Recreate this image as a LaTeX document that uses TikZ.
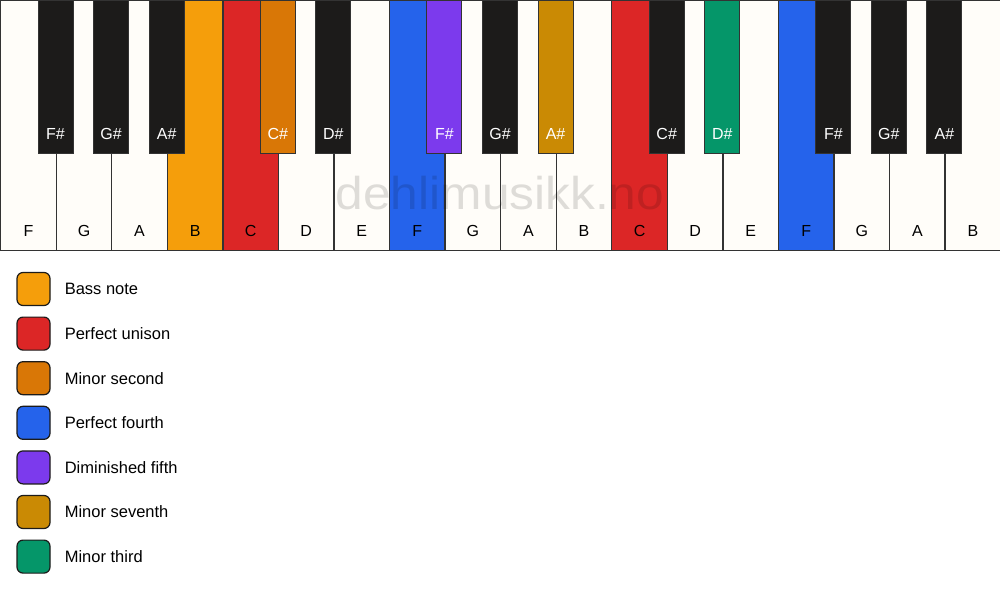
\documentclass[tikz,border=0pt]{standalone}
\usepackage{fontspec}
\setmainfont{Liberation Sans}
\usetikzlibrary{positioning}

\definecolor{ivory}{HTML}{FFFDF9}
\definecolor{ebony}{HTML}{1C1B1A}
\definecolor{keyline}{HTML}{333333}
\definecolor{bassnote}{HTML}{F59E0B}
\definecolor{unison}{HTML}{DC2626}
\definecolor{minsecond}{HTML}{D97706}
\definecolor{fourth}{HTML}{2563EB}
\definecolor{dimfifth}{HTML}{7C3AED}
\definecolor{minseventh}{HTML}{CA8A04}
\definecolor{minthird}{HTML}{059669}

\tikzset{
  whitekey/.style={draw=keyline, line width=1.3pt, fill=ivory, anchor=north west,
    minimum width=55.556pt, minimum height=250pt, inner sep=0pt},
  blackkey/.style={draw=keyline, line width=1pt, fill=ebony, anchor=north,
    minimum width=35pt, minimum height=153pt, inner sep=0pt},
  whitelabel/.style={font=\fontsize{16}{19}\selectfont, text=black, inner sep=0pt},
  blacklabel/.style={font=\fontsize{16}{19}\selectfont, text=white, inner sep=0pt},
  swatch/.style={draw=ebony, line width=1.2pt, rounded corners=6pt,
    minimum width=33pt, minimum height=33pt, inner sep=0pt},
  legendtext/.style={font=\fontsize{16.5}{19}\selectfont, anchor=west, inner sep=0pt},
}

\begin{document}
\begin{tikzpicture}[x=1pt,y=-1pt]
\useasboundingbox[fill=white] (0,0) rectangle (1000,594);
%% white keys
\foreach \i/\n/\c in {0/F/ivory,1/G/ivory,2/A/ivory,3/B/bassnote,4/C/unison,5/D/ivory,
  6/E/ivory,7/F/fourth,8/G/ivory,9/A/ivory,10/B/ivory,11/C/unison,12/D/ivory,
  13/E/ivory,14/F/fourth,15/G/ivory,16/A/ivory,17/B/ivory}{
  \node[whitekey, fill=\c] (wk\i) at (\i*55.556,0) {};
  \node[whitelabel] (wl\i) at ([yshift=20pt]wk\i.south) {\n};
}
%% black keys
\foreach \i/\n/\c in {1/F\#/ebony,2/G\#/ebony,3/A\#/ebony,5/C\#/minsecond,6/D\#/ebony,
  8/F\#/dimfifth,9/G\#/ebony,10/A\#/minseventh,12/C\#/ebony,13/D\#/minthird,
  15/F\#/ebony,16/G\#/ebony,17/A\#/ebony}{
  \node[blackkey, fill=\c] (bk\i) at (\i*55.556,0) {};
  \node[blacklabel] (bl\i) at ([yshift=20pt]bk\i.south) {\n};
}
%% watermark
\node[font=\fontsize{46}{50}\selectfont, text=black, opacity=0.13, xscale=1.08] (mark) at (500,193) {dehlimusikk.no};
%% legend
\node[swatch, fill=bassnote] (sw0) at (33.5,289) {};
\node[legendtext, right=14pt of sw0] (lg0) {Bass note};
\node[swatch, fill=unison, below=10.4pt of sw0] (sw1) {};
\node[legendtext, right=14pt of sw1] (lg1) {Perfect unison};
\node[swatch, fill=minsecond, below=10.4pt of sw1] (sw2) {};
\node[legendtext, right=14pt of sw2] (lg2) {Minor second};
\node[swatch, fill=fourth, below=10.4pt of sw2] (sw3) {};
\node[legendtext, right=14pt of sw3] (lg3) {Perfect fourth};
\node[swatch, fill=dimfifth, below=10.4pt of sw3] (sw4) {};
\node[legendtext, right=14pt of sw4] (lg4) {Diminished fifth};
\node[swatch, fill=minseventh, below=10.4pt of sw4] (sw5) {};
\node[legendtext, right=14pt of sw5] (lg5) {Minor seventh};
\node[swatch, fill=minthird, below=10.4pt of sw5] (sw6) {};
\node[legendtext, right=14pt of sw6] (lg6) {Minor third};
%
\end{tikzpicture}
\end{document}
